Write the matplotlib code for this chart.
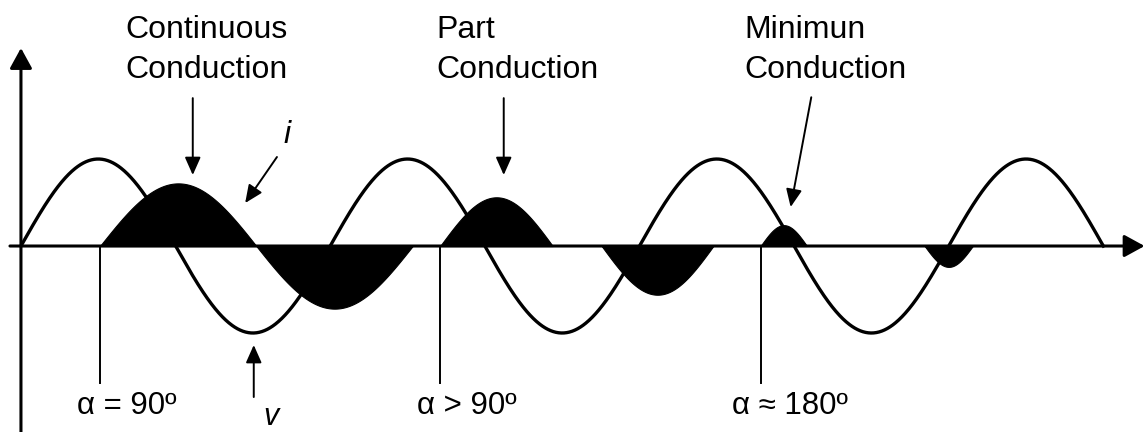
import numpy as np
import matplotlib
matplotlib.use("Agg")
import matplotlib.pyplot as plt

plt.rcParams['font.family'] = ['Liberation Sans', 'DejaVu Sans']

# voltage v: plain sine, angles in degrees
v_end = 1260
v_amp = 1.0

# current i: conduction lobes (start, end, peak)
lobe_start = [92, 274, 488, 676, 861, 1052]
lobe_end = [274, 456, 619, 806, 915, 1108]
lobe_peak = [0.72, -0.72, 0.56, -0.56, 0.24, -0.24]

# firing angle markers
alpha_at = [92, 488, 861]
alpha_labels = ['α = 90º', 'α > 90º', 'α ≈ 180º']
alpha_text_x = [65, 461, 828]

titles = ['Continuous\nConduction', 'Part\nConduction', 'Minimun\nConduction']
title_x = [122, 484, 842]


def main() -> None:
    fig = plt.figure(figsize=(11.45, 4.32), dpi=100)
    ax = fig.add_axes([0, 0, 1, 1])
    ax.set_xlim(-24.4, 1308.5)
    ax.set_ylim(-2.138, 2.828)
    ax.axis('off')

    # current lobes
    for s, e, p in zip(lobe_start, lobe_end, lobe_peak):
        th = np.linspace(s, e, 200)
        y = p * np.sin(np.pi * (th - s) / (e - s))
        ax.fill_between(th, 0, y, color='black', lw=0.8, zorder=2)

    # voltage
    th = np.linspace(0, v_end, 2000)
    ax.plot(th, v_amp * np.sin(np.radians(th)), color='black', lw=2.4, zorder=3)

    # axes with arrows
    big = dict(arrowstyle='-|>,head_length=0.62,head_width=0.34', lw=2.2,
               color='black', shrinkA=0, shrinkB=0, mutation_scale=20)
    ax.annotate('', xy=(1308, 0), xytext=(-12.8, 0), arrowprops=big, zorder=4)
    ax.annotate('', xy=(0, 2.276), xytext=(0, -2.2), arrowprops=big, zorder=4)

    # alpha markers
    for a, lab, tx in zip(alpha_at, alpha_labels, alpha_text_x):
        ax.plot([a, a], [0, -1.575], color='black', lw=1.4, zorder=3)
        ax.text(tx, -1.84, lab, fontsize=22.5, ha='left', va='center')

    # titles
    for t, x in zip(titles, title_x):
        ax.text(x, 2.655, t, fontsize=23, ha='left', va='top', linespacing=1.45)

    small = dict(arrowstyle='-|>,head_length=0.54,head_width=0.24', lw=1.4,
                 color='black', shrinkA=0, shrinkB=0, mutation_scale=20)
    ax.annotate('', xy=(200, 0.816), xytext=(200, 1.70), arrowprops=small)
    ax.annotate('', xy=(562, 0.816), xytext=(562, 1.70), arrowprops=small)
    ax.annotate('', xy=(896, 0.448), xytext=(920, 1.71), arrowprops=small)
    ax.annotate('', xy=(261, 0.494), xytext=(298, 1.023), arrowprops=small)
    ax.annotate('', xy=(271, -1.138), xytext=(271, -1.736), arrowprops=small)

    ax.text(310, 1.276, 'i', fontsize=23, style='italic', ha='center', va='center')
    ax.text(291, -1.96, 'v', fontsize=22, style='italic', ha='center', va='center')

    fig.savefig('out.png', dpi=100)


if __name__ == '__main__':
    main()
